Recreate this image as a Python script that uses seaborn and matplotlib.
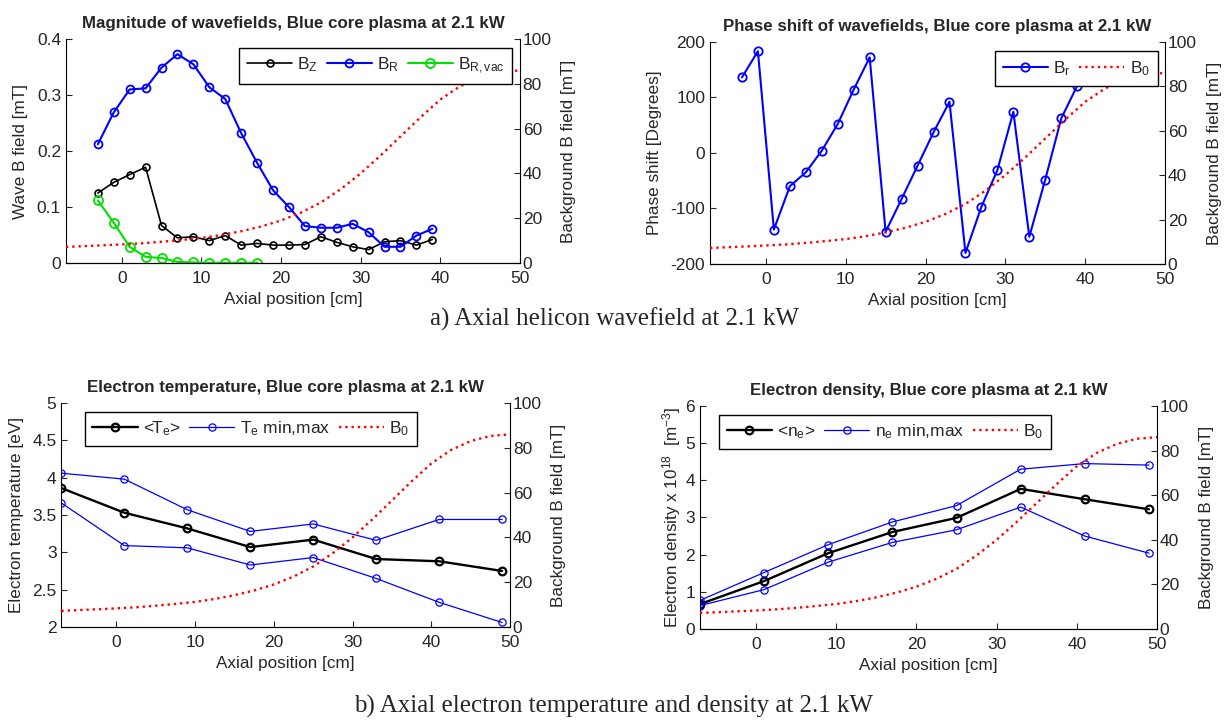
import numpy as np
import matplotlib
matplotlib.use('Agg')
import matplotlib.pyplot as plt
from matplotlib.ticker import FuncFormatter
import seaborn as sns

# 축 위치 / 데이터
z_wave = [-3, -1, 1, 3, 5, 7, 9, 11, 13, 15, 17, 19, 21, 23, 25, 27, 29, 31, 33, 35, 37, 39]
bz = [0.125, 0.144, 0.158, 0.171, 0.067, 0.045, 0.047, 0.040, 0.049, 0.032, 0.035,
      0.032, 0.032, 0.033, 0.047, 0.037, 0.029, 0.024, 0.038, 0.040, 0.032, 0.042]
br = [0.212, 0.269, 0.310, 0.312, 0.349, 0.373, 0.355, 0.314, 0.293, 0.232, 0.179,
      0.130, 0.100, 0.066, 0.063, 0.063, 0.070, 0.055, 0.029, 0.029, 0.049, 0.061]
z_vac = [-3, -1, 1, 3, 5, 7, 9, 11, 13, 15, 17]
br_vac = [0.112, 0.072, 0.029, 0.011, 0.009, 0.002, 0.001, 0.0005, 0.0005, 0.0005, 0.0005]
phase_br = [136, 183, -138, -60, -35, 4, 52, 114, 172, -142, -83,
            -23, 37, 92, -180, -97, -31, 74, -151, -48, 62, 121]

z_b0 = [-7, -5, -2.5, 0, 2.5, 5, 7.5, 10, 12.5, 15, 17.5, 20, 22.5, 25, 27.5,
        30, 32.5, 35, 37.5, 40, 42.5, 45, 47.5, 50]
b0 = [7.2, 7.5, 7.9, 8.3, 8.8, 9.5, 10.3, 11.2, 12.5, 14.2, 16.3, 19.0, 22.5, 27.0, 33.0,
      40.0, 48.0, 56.5, 65.0, 73.0, 79.0, 83.0, 85.3, 86.0]

z_probe = [-7, 1, 9, 17, 25, 33, 41, 49]
te_mean = [3.86, 3.53, 3.32, 3.07, 3.17, 2.91, 2.88, 2.75]
te_max = [4.06, 3.98, 3.57, 3.28, 3.38, 3.16, 3.44, 3.44]
te_min = [3.66, 3.09, 3.06, 2.83, 2.93, 2.65, 2.33, 2.06]
ne_mean = [0.67, 1.29, 2.04, 2.61, 2.99, 3.77, 3.49, 3.22]
ne_max = [0.77, 1.52, 2.27, 2.88, 3.32, 4.30, 4.45, 4.41]
ne_min = [0.63, 1.06, 1.80, 2.33, 2.67, 3.28, 2.50, 2.04]

sns.set_theme(style='white')
plt.rcParams['font.family'] = ['Liberation Sans', 'DejaVu Sans']
plt.rcParams['mathtext.fontset'] = 'custom'
plt.rcParams['mathtext.rm'] = 'Liberation Sans'
plt.rcParams['mathtext.it'] = 'Liberation Sans'
plt.rcParams['mathtext.default'] = 'regular'
plt.rcParams['axes.edgecolor'] = 'black'
plt.rcParams['axes.linewidth'] = 0.8
plt.rcParams['xtick.direction'] = 'in'
plt.rcParams['ytick.direction'] = 'in'

BLUE, GREEN, RED = '#0000ff', '#00e000', '#ff0000'
TICK_FS, LABEL_FS, TITLE_FS = 12.5, 12.3, 12.2
fmt = FuncFormatter(lambda v, p: '%g' % v)

fig = plt.figure(figsize=(12.28, 7.26), dpi=100)


def setup(rect, ylim, yticks, ylabel, title, ypad=6):
    ax = fig.add_axes(rect)
    ax.set_xlim(-7, 50)
    ax.set_ylim(*ylim)
    ax.set_xticks([0, 10, 20, 30, 40, 50])
    ax.set_yticks(yticks)
    ax.yaxis.set_major_formatter(fmt)
    ax.tick_params(axis='both', labelsize=TICK_FS, length=4, width=0.8, bottom=True, left=True)
    ax.tick_params(axis='x', pad=6)
    ax.spines['top'].set_visible(False)
    ax.spines['right'].set_visible(False)
    ax.set_xlabel('Axial position [cm]', fontsize=LABEL_FS, labelpad=4)
    ax.set_ylabel(ylabel, fontsize=LABEL_FS, labelpad=ypad)
    ax.set_title(title, fontsize=TITLE_FS, fontweight='bold', pad=8)
    ax2 = ax.twinx()
    ax2.set_ylim(0, 100)
    ax2.set_yticks([0, 20, 40, 60, 80, 100])
    ax2.tick_params(axis='y', labelsize=TICK_FS, length=4, width=0.8, right=True, pad=2)
    ax2.spines['top'].set_visible(False)
    ax2.spines['left'].set_visible(False)
    ax2.set_ylabel('Background B field [mT]', fontsize=LABEL_FS, labelpad=7)
    return ax, ax2


def line(ax, x, y, **kw):
    sns.lineplot(x=x, y=y, ax=ax, sort=False, estimator=None, legend=False, **kw)
    return ax.get_lines()[-1]


def b0_line(ax2):
    return line(ax2, z_b0, b0, color=RED, linestyle=':', linewidth=1.7, label='B$_0$')


def legend(ax2, handles, **kw):
    lg = ax2.legend(handles=handles, ncol=len(handles), fontsize=12.5, frameon=True,
                    fancybox=False, edgecolor='black', framealpha=1,
                    borderaxespad=0.3, borderpad=0.45, handlelength=2.6,
                    columnspacing=0.5, handletextpad=0.3, **kw)
    lg.get_frame().set_linewidth(1.0)
    return lg


# a) 파동 자기장 크기
ax, ax2 = setup([0.0537, 0.6377, 0.3697, 0.3085], (0, 0.4), [0, 0.1, 0.2, 0.3, 0.4],
                'Wave B field [mT]', 'Magnitude of wavefields, Blue core plasma at 2.1 kW')
b0_line(ax2)
h1 = line(ax, z_wave, bz, color='black', linewidth=1.2, marker='o', markersize=5,
          markerfacecolor='none', markeredgecolor='black', markeredgewidth=1.2, label='B$_Z$')
h2 = line(ax, z_wave, br, color=BLUE, linewidth=1.5, marker='o', markersize=5.7,
          markerfacecolor='none', markeredgecolor=BLUE, markeredgewidth=1.3, label='B$_R$')
h3 = line(ax, z_vac, br_vac, color=GREEN, linewidth=1.5, marker='o', markersize=6.5,
          markerfacecolor='none', markeredgecolor=GREEN, markeredgewidth=1.3, label='B$_{R,vac}$')
legend(ax2, [h1, h2, h3], loc='upper right', bbox_to_anchor=(0.995, 0.985))

# 위상
ax, ax2 = setup([0.5782, 0.6364, 0.3705, 0.306], (-200, 200), [-200, -100, 0, 100, 200],
                'Phase shift [Degrees]', 'Phase shift of wavefields, Blue core plasma at 2.1 kW')
hb = b0_line(ax2)
hp = line(ax, z_wave, phase_br, color=BLUE, linewidth=1.5, marker='o', markersize=6,
          markerfacecolor='none', markeredgecolor=BLUE, markeredgewidth=1.3, label='B$_r$')
legend(ax2, [hp, hb], loc='upper right', bbox_to_anchor=(0.995, 0.98))

# b) 전자 온도
ax, ax2 = setup([0.05, 0.1364, 0.3653, 0.3085], (2, 5), [2, 2.5, 3, 3.5, 4, 4.5, 5],
                'Electron temperature [eV]', 'Electron temperature, Blue core plasma at 2.1 kW')
hb = b0_line(ax2)
hm = line(ax, z_probe, te_mean, color='black', linewidth=1.7, marker='o', markersize=5.5,
          markerfacecolor='none', markeredgecolor='black', markeredgewidth=1.6, label='<T$_e$>')
hx = line(ax, z_probe, te_max, color=BLUE, linewidth=0.9, marker='o', markersize=5.2,
          markerfacecolor='none', markeredgecolor=BLUE, markeredgewidth=0.9, label='T$_e$ min,max')
line(ax, z_probe, te_min, color=BLUE, linewidth=0.9, marker='o', markersize=5.2,
     markerfacecolor='none', markeredgecolor=BLUE, markeredgewidth=0.9)
legend(ax2, [hm, hx, hb], loc='upper left', bbox_to_anchor=(0.04, 0.985))

# 전자 밀도
ax, ax2 = setup([0.570, 0.1336, 0.3722, 0.3072], (0, 6), [0, 1, 2, 3, 4, 5, 6],
                'Electron density x 10$^{18}$  [m$^{-3}$]',
                'Electron density, Blue core plasma at 2.1 kW', ypad=2)
hb = b0_line(ax2)
hm = line(ax, z_probe, ne_mean, color='black', linewidth=1.7, marker='o', markersize=5.5,
          markerfacecolor='none', markeredgecolor='black', markeredgewidth=1.6, label='<n$_e$>')
hx = line(ax, z_probe, ne_max, color=BLUE, linewidth=0.9, marker='o', markersize=5.2,
          markerfacecolor='none', markeredgecolor=BLUE, markeredgewidth=0.9, label='n$_e$ min,max')
line(ax, z_probe, ne_min, color=BLUE, linewidth=0.9, marker='o', markersize=5.2,
     markerfacecolor='none', markeredgecolor=BLUE, markeredgewidth=0.9)
legend(ax2, [hm, hx, hb], loc='upper left', bbox_to_anchor=(0.03, 0.985))

# 캡션
fig.text(0.5, 1 - 319 / 726, 'a) Axial helicon wavefield at 2.1 kW', ha='center', va='center',
         fontsize=18, family=['Liberation Serif', 'DejaVu Serif'])
fig.text(0.5, 1 - 706 / 726, 'b) Axial electron temperature and density at 2.1 kW', ha='center',
         va='center', fontsize=18, family=['Liberation Serif', 'DejaVu Serif'])

fig.savefig('out.png', dpi=100)
